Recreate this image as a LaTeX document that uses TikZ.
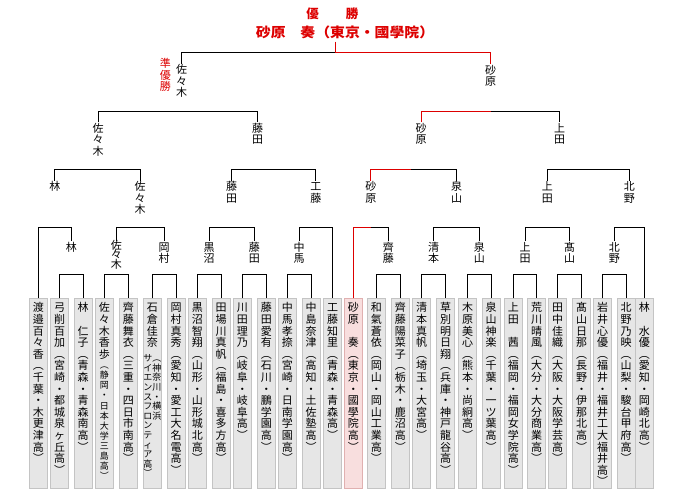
\documentclass[tikz,border=0pt]{standalone}
\usepackage{fontspec}
\usepackage{graphicx}
\setmainfont{Noto Sans CJK JP}
\usetikzlibrary{calc}
\definecolor{win}{HTML}{DD0000}
\definecolor{boxfill}{HTML}{E6E6E6}
\definecolor{boxedge}{HTML}{C4C4C4}
\definecolor{pinkfill}{HTML}{F8DEDE}
\definecolor{pinkedge}{HTML}{E0B0B0}
\newdimen\vtp \vtp=12pt
\newdimen\vtw \vtw=12pt
\def\zs{}
\def\vtchar#1{\hbox to \vtw{\hss\smash{#1}\hss\vrule width 0pt height .86\vtp depth .14\vtp}}
\def\vtloop#1{\ifx#1\relax\else\vtchar{#1}\expandafter\vtloop\fi}
\newcommand\vt[1]{\vtop{\offinterlineskip\vtloop#1\relax}}
\newcommand\ltext[1]{{\fontsize{11}{12}\selectfont\vtp=11.7pt\vtw=12pt\vt{#1}}}
\newcommand\ptext[1]{{\fontsize{11}{12}\selectfont\vtp=11.6pt\vtw=12pt\vt{#1}}}
\newcommand\bk[3]{\draw (#1.north) -- (#1.north |- 0,#3) -- (#2.north |- 0,#3) -- (#2.north);}
\begin{document}
\begin{tikzpicture}[x=1pt,y=-1pt,line width=1pt,
  lab/.style={anchor=north,inner sep=0pt,outer sep=0pt},
  pbox/.style={anchor=north,draw=boxedge,fill=boxfill,line width=1pt,minimum width=18pt,minimum height=190pt,inner sep=0pt,outer sep=0pt},
  wbox/.style={pbox,draw=pinkedge,fill=pinkfill},
  ptx/.style={anchor=north,inner sep=0pt,outer sep=0pt}]
\fill[white] (0,0) rectangle (680,490);
\useasboundingbox (0,0) rectangle (680,490);
% title
\node[text=win,font=\fontsize{12.5}{14}\selectfont\bfseries,inner sep=0pt] (ttl) at (332.3,14.2) {優\hspace{27pt}勝};
\node[text=win,font=\fontsize{13.5}{15}\selectfont\bfseries,inner sep=0pt] (champ) at (345,32.5) {\scalebox{1.1}[1]{砂原\hspace{1em}奏（東京・國學院）}};
\coordinate (cv) at (335.5,41.5);
% player boxes
\node[pbox] (p0) at (38.3,298.3) {};
\node[pbox] (p1) at (59.7,298.3) {};
\node[pbox] (p2) at (83.0,298.3) {};
\node[pbox] (p3) at (104.3,298.3) {};
\node[pbox] (p4) at (128.3,298.3) {};
\node[pbox] (p5) at (152.3,298.3) {};
\node[pbox] (p6) at (176.0,298.3) {};
\node[pbox] (p7) at (197.3,298.3) {};
\node[pbox] (p8) at (221.0,298.3) {};
\node[pbox] (p9) at (242.3,298.3) {};
\node[pbox] (p10) at (266.3,298.3) {};
\node[pbox] (p11) at (287.3,298.3) {};
\node[pbox] (p12) at (311.0,298.3) {};
\node[pbox] (p13) at (332.7,298.3) {};
\node[wbox] (p14) at (353.3,298.3) {};
\node[pbox] (p15) at (376.3,298.3) {};
\node[pbox] (p16) at (400.3,298.3) {};
\node[pbox] (p17) at (421.7,298.3) {};
\node[pbox] (p18) at (445.7,298.3) {};
\node[pbox] (p19) at (467.7,298.3) {};
\node[pbox] (p20) at (491.0,298.3) {};
\node[pbox] (p21) at (513.3,298.3) {};
\node[pbox] (p22) at (536.7,298.3) {};
\node[pbox] (p23) at (557.7,298.3) {};
\node[pbox] (p24) at (581.7,298.3) {};
\node[pbox] (p25) at (602.7,298.3) {};
\node[pbox] (p26) at (626.0,298.3) {};
\node[pbox] (p27) at (644.3,298.3) {};
% player texts
\node[ptx] (t0) at (38.3,302) {\ptext{渡邉百々香︵千葉・木更津高︶}};
\node[ptx] (t1) at (59.7,302) {\ptext{弓削百加︵宮崎・都城泉ヶ丘高︶}};
\node[ptx] (t2) at (83.0,302) {\ptext{林\zs 仁子︵青森・青森南高︶}};
\node[ptx] (t3) at (104.3,302) {{\fontsize{11}{12}\selectfont\vtp=11.6pt\vtw=12pt\vtop{\offinterlineskip\vtloop 佐々木香歩\relax\fontsize{9}{10}\selectfont\vtp=10.1pt\vtloop ︵静岡・日本大学三島高︶\relax}}};
\node[ptx] (t4) at (128.3,302) {\ptext{齊藤舞衣︵三重・四日市南高︶}};
\node[ptx] (t5) at (152.3,302) {{\fontsize{11}{12}\selectfont\vtp=11.6pt\vtw=18pt\vtop{\offinterlineskip\vtloop 石倉佳奈\relax\kern5pt\hbox{\fontsize{9}{9.5}\selectfont\vtp=9.6pt\vtw=9pt\vt{サイエンスフロンティア高︶}\vt{︵神奈川・横浜}}}}};
\node[ptx] (t6) at (176.0,302) {\ptext{岡村真秀︵愛知・愛工大名電高︶}};
\node[ptx] (t7) at (197.3,302) {\ptext{黒沼智翔︵山形・山形城北高︶}};
\node[ptx] (t8) at (221.0,302) {\ptext{田場川真帆︵福島・喜多方高︶}};
\node[ptx] (t9) at (242.3,302) {\ptext{川田理乃︵岐阜・岐阜高︶}};
\node[ptx] (t10) at (266.3,302) {\ptext{藤田愛有︵石川・鵬学園高︶}};
\node[ptx] (t11) at (287.3,302) {\ptext{中馬孝捺︵宮崎・日南学園高︶}};
\node[ptx] (t12) at (311.0,302) {\ptext{中島奈津︵高知・土佐塾高︶}};
\node[ptx] (t13) at (332.7,302) {\ptext{工藤知里︵青森・青森高︶}};
\node[ptx] (t14) at (353.3,302) {\ptext{砂原\zs 奏︵東京・國學院高︶}};
\node[ptx] (t15) at (376.3,302) {\ptext{和氣蒼依︵岡山・岡山工業高︶}};
\node[ptx] (t16) at (400.3,302) {\ptext{齊藤陽菜子︵栃木・鹿沼高︶}};
\node[ptx] (t17) at (421.7,302) {\ptext{清本真帆︵埼玉・大宮高︶}};
\node[ptx] (t18) at (445.7,302) {\ptext{草別明日翔︵兵庫・神戸龍谷高︶}};
\node[ptx] (t19) at (467.7,302) {\ptext{木原美心︵熊本・尚絅高︶}};
\node[ptx] (t20) at (491.0,302) {\ptext{泉山神楽︵千葉・一ツ葉高︶}};
\node[ptx] (t21) at (513.3,302) {\ptext{上田\zs 茜︵福岡・福岡女学院高︶}};
\node[ptx] (t22) at (536.7,302) {\ptext{荒川晴風︵大分・大分商業高︶}};
\node[ptx] (t23) at (557.7,302) {\ptext{田中佳織︵大阪・大阪学芸高︶}};
\node[ptx] (t24) at (581.7,302) {\ptext{髙山日那︵長野・伊那北高︶}};
\node[ptx] (t25) at (602.7,302) {\ptext{岩井心優︵福井・福井工大福井高︶}};
\node[ptx] (t26) at (626.0,302) {\ptext{北野乃映︵山梨・駿台甲府高︶}};
\node[ptx] (t27) at (644.3,302) {\ptext{林\zs 水優︵愛知・岡崎北高︶}};
% second level labels
\node[lab] (a1) at (71.35,241) {\ltext{林}};
\node[lab] (a2) at (116.3,241) {{\fontsize{11}{12}\selectfont\vtp=9.6pt\vtw=12pt\vt{佐々木}}};
\node[lab] (a3) at (164.15,241) {\ltext{岡村}};
\node[lab] (a4) at (209.15,241) {\ltext{黒沼}};
\node[lab] (a5) at (254.3,241) {\ltext{藤田}};
\node[lab] (a6) at (299.15,241) {\ltext{中馬}};
\node[lab] (a7) at (388.3,241) {\ltext{齊藤}};
\node[lab] (a8) at (433.7,241) {\ltext{清本}};
\node[lab] (a9) at (479.35,241) {\ltext{泉山}};
\node[lab] (a10) at (525,241) {\ltext{上田}};
\node[lab] (a11) at (569.7,241) {\ltext{髙山}};
\node[lab] (a12) at (614.35,241) {\ltext{北野}};
% third level labels
\node[lab] (b1) at (54.8,180.5) {\ltext{林}};
\node[lab] (b2) at (140.2,180.5) {\ltext{佐々木}};
\node[lab] (b3) at (231.7,180.5) {\ltext{藤田}};
\node[lab] (b4) at (315.9,180.5) {\ltext{工藤}};
\node[lab] (b5) at (370.8,180.5) {\ltext{砂原}};
\node[lab] (b6) at (456.5,180.5) {\ltext{泉山}};
\node[lab] (b7) at (547.35,180.5) {\ltext{上田}};
\node[lab] (b8) at (629.3,180.5) {\ltext{北野}};
% quarter labels
\node[lab] (c1) at (98,122) {\ltext{佐々木}};
\node[lab] (c2) at (257.5,122) {\ltext{藤田}};
\node[lab] (c3) at (421,122) {\ltext{砂原}};
\node[lab] (c4) at (559.5,122) {\ltext{上田}};
% semi labels
\node[lab] (d1) at (181.5,63.5) {\ltext{佐々木}};
\node[lab] (d2) at (490.7,64) {\ltext{砂原}};
\node[lab,text=win] (ru) at (165.3,57.5) {\ltext{準優勝}};
% level 1
\bk{p1}{p2}{274.3}
\bk{p3}{p4}{274.3}
\bk{p5}{p6}{274.3}
\bk{p7}{p8}{274.3}
\bk{p9}{p10}{274.3}
\bk{p11}{p12}{274.3}
\bk{p15}{p16}{274.3}
\bk{p17}{p18}{274.3}
\bk{p19}{p20}{274.3}
\bk{p21}{p22}{274.3}
\bk{p23}{p24}{274.3}
\bk{p25}{p26}{274.3}
% level 2
\bk{p0}{a1}{227.3}
\bk{a2}{a3}{227.3}
\bk{a4}{a5}{227.3}
\bk{a6}{p13}{227.3}
\draw[win] (p14.north) -- (p14.north |- 0,227.3) -- (b5 |- 0,227.3);
\draw (b5 |- 0,227.3) -- (a7.north |- 0,227.3) -- (a7.north);
\bk{a8}{a9}{227.3}
\bk{a10}{a11}{227.3}
\bk{a12}{p27}{227.3}
% level 3
\bk{b1}{b2}{169.5}
\bk{b3}{b4}{169.5}
\coordinate (m3) at (411,169.5);
\draw[win] (b5.north) -- (b5.north |- 0,169.5) -- (m3);
\draw (m3) -- (b6.north |- 0,169.5) -- (b6.north);
\bk{b7}{b8}{169.5}
% level 4
\bk{c1}{c2}{111.7}
\draw[win] (c3.north) -- (c3.north |- 0,111.7) -- (d2.north |- 0,111.7);
\draw (d2.north |- 0,111.7) -- (c4.north |- 0,111.7) -- (c4.north);
% final
\draw (d1.north) -- (d1.north |- 0,52) -- (cv |- 0,52);
\draw[win] (cv) -- (cv |- 0,52) -- (d2.north |- 0,52) -- (d2.north);
\end{tikzpicture}
\end{document}
